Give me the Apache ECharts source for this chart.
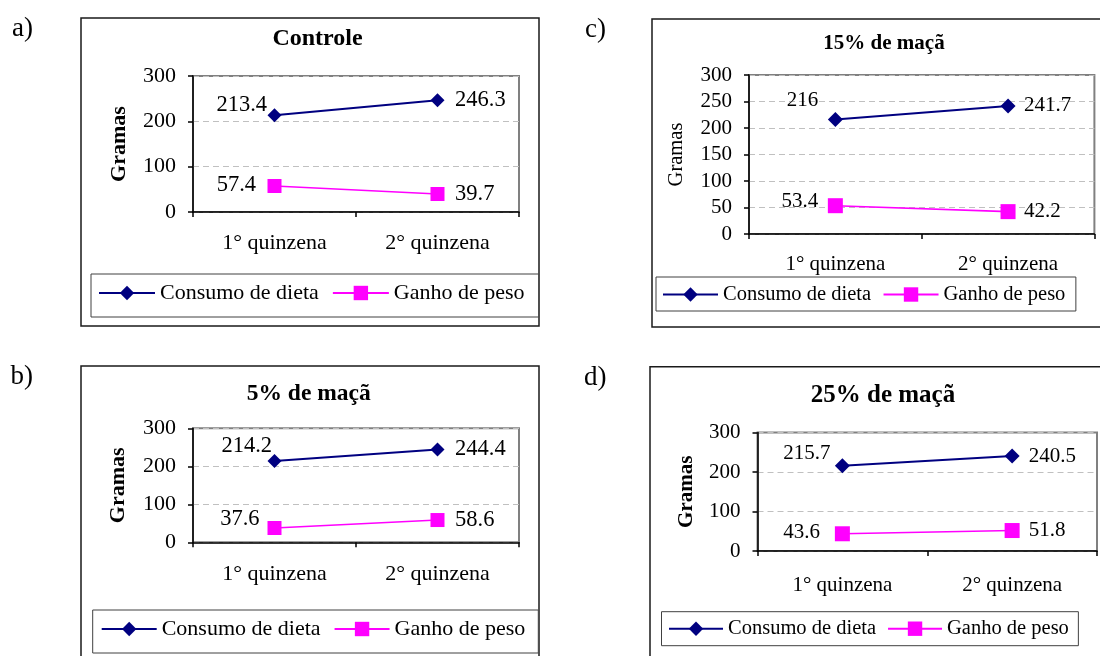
<!DOCTYPE html>
<html>
<head>
<meta charset="utf-8">
<script src="https://cdn.jsdelivr.net/npm/echarts@6/dist/echarts.min.js"></script>
<style>
  html, body { margin: 0; padding: 0; background: #fff; }
  #chart { width: 1100px; height: 656px; }
</style>
</head>
<body>
<div id="chart"></div>
<script>
// Categories and series names
const periods = ['1° quinzena', '2° quinzena'];
const seriesNames = ['Consumo de dieta', 'Ganho de peso'];
const panelTitles = ['Controle', '5% de maçã', '15% de maçã', '25% de maçã'];
const panelLetters = ['a)', 'b)', 'c)', 'd)'];

// Values in grams, one pair per fortnight
const consumoControle = [213.4, 246.3];
const ganhoControle = [57.4, 39.7];
const consumo5 = [214.2, 244.4];
const ganho5 = [37.6, 58.6];
const consumo15 = [216, 241.7];
const ganho15 = [53.4, 42.2];
const consumo25 = [215.7, 240.5];
const ganho25 = [43.6, 51.8];

// Y-axis tick labels
const ticksWide = [0, 100, 200, 300];
const ticksFine = [0, 50, 100, 150, 200, 250, 300];

const FONT = "'Liberation Serif', 'Times New Roman', Times, serif";
const NAVY = '#000080';
const MAGENTA = '#FF00FF';

// Per-panel layout: grid box, frame, text sizes, label placement
// labels: [series][point] = [side, gap from point centre, vertical shift]
const panels = [
  {
    values: [consumoControle, ganhoControle], ticks: ticksWide,
    grid: { left: 193, top: 76, width: 326, height: 136 },
    frame: { x: 81, y: 18, width: 458, height: 308 },
    letterPos: [12, 29], titlePos: [317.5, 39], titleSize: 24,
    fontSize: 22, labelSize: 22.5, nameBold: true, nameSize: 22, nameGap: 63, xMargin: 20,
    symbolSize: [14, 14],
    labels: [[['left', 7.5, -10], ['right', 17.5, 0]], [['left', 18.5, -1], ['right', 17.5, 0]]],
    legend: { left: 91, top: 274, padding: [8, 14, 13, 7], itemGap: 13, itemWidth: 56, fontSize: 22 }
  },
  {
    values: [consumo5, ganho5], ticks: ticksWide,
    grid: { left: 193, top: 428.3, width: 326, height: 114 },
    frame: { x: 81, y: 366, width: 458, height: 320 },
    letterPos: [10.5, 377], titlePos: [308.7, 393.5], titleSize: 23.5,
    fontSize: 22, labelSize: 22.5, nameBold: true, nameSize: 22, nameGap: 64, xMargin: 21,
    symbolSize: [14, 14],
    labels: [[['left', 2.5, -15], ['right', 17.5, 0]], [['left', 15, -9], ['right', 17.5, 0]]],
    legend: { left: 92.7, top: 610, padding: [8, 13, 13, 8], itemGap: 13, itemWidth: 55, fontSize: 22 }
  },
  {
    values: [consumo15, ganho15], ticks: ticksFine,
    grid: { left: 749, top: 75, width: 345.4, height: 159 },
    frame: { x: 652, y: 19, width: 480, height: 308 },
    letterPos: [585, 30], titlePos: [884, 44], titleSize: 21,
    fontSize: 21, labelSize: 21, nameBold: false, nameSize: 20.5, nameGap: 62, xMargin: 20,
    symbolSize: [15, 15],
    labels: [[['left', 17, -19.5], ['right', 16, 0]], [['left', 17, -4], ['right', 16, 0]]],
    legend: { left: 656, top: 277, padding: [7, 10.5, 6, 6], itemGap: 11.5, itemWidth: 55, fontSize: 20.5 }
  },
  {
    values: [consumo25, ganho25], ticks: ticksWide,
    grid: { left: 757.5, top: 432.5, width: 339.5, height: 118.5 },
    frame: { x: 650, y: 366.7, width: 480, height: 320 },
    letterPos: [584, 378], titlePos: [883, 396], titleSize: 25,
    fontSize: 21, labelSize: 21, nameBold: true, nameSize: 21, nameGap: 60.5, xMargin: 23.5,
    symbolSize: [15, 15],
    labels: [[['left', 11.8, -12.5], ['right', 16.7, 0]], [['left', 22.4, -1.5], ['right', 16.7, 0]]],
    legend: { left: 661.5, top: 611.7, padding: [6.5, 9.5, 6.5, 6.5], itemGap: 11, itemWidth: 54, fontSize: 20.5 }
  }
];

const grids = [], xAxes = [], yAxes = [], series = [], legends = [], graphics = [];

panels.forEach((p, k) => {
  grids.push(Object.assign({
    show: true, borderColor: '#808080', borderWidth: 2, backgroundColor: 'transparent',
    containLabel: false, outerBoundsMode: 'none'
  }, p.grid));

  xAxes.push({
    type: 'category', gridIndex: k, data: periods, boundaryGap: true,
    axisLine: { show: true, lineStyle: { color: '#000', width: 1.5 } },
    axisTick: { show: true, length: 5, inside: false, alignWithLabel: false, lineStyle: { color: '#000', width: 1.5 } },
    axisLabel: { show: true, margin: p.xMargin, color: '#000', fontFamily: FONT, fontSize: p.fontSize, interval: 0 },
    splitLine: { show: false }
  });

  const t = p.ticks;
  yAxes.push({
    type: 'value', gridIndex: k,
    min: t[0], max: t[t.length - 1], interval: t[1] - t[0],
    name: 'Gramas', nameLocation: 'middle', nameGap: p.nameGap, nameMoveOverlap: false,
    nameTextStyle: { color: '#000', fontFamily: FONT, fontSize: p.nameSize, fontWeight: p.nameBold ? 'bold' : 'normal' },
    axisLine: { show: true, lineStyle: { color: '#000', width: 1.5 } },
    axisTick: { show: true, length: 5, inside: false, lineStyle: { color: '#000', width: 1.5 } },
    axisLabel: { show: true, margin: 17, color: '#000', fontFamily: FONT, fontSize: p.fontSize, showMinLabel: true, showMaxLabel: true },
    splitLine: { show: true, lineStyle: { color: '#c0c0c0', width: 1, type: [6, 4] } }
  });

  p.values.forEach((vals, s) => {
    const size = p.symbolSize[s];
    series.push({
      type: 'line', name: seriesNames[s], xAxisIndex: k, yAxisIndex: k,
      symbol: s === 0 ? 'diamond' : 'rect', symbolSize: size,
      showAllSymbol: true,
      lineStyle: { color: s === 0 ? NAVY : MAGENTA, width: s === 0 ? 2 : 1.6 },
      itemStyle: { color: s === 0 ? NAVY : MAGENTA, borderWidth: 0 },
      emphasis: { disabled: true },
      label: { show: true, color: '#000', fontFamily: FONT, fontSize: p.labelSize, formatter: '{c}' },
      data: vals.map((v, i) => {
        const [side, gap, dy] = p.labels[s][i];
        return { value: v, label: { position: side, distance: gap - size / 2, offset: [0, dy] } };
      }),
      z: 3
    });
  });

  legends.push({
    show: true, orient: 'horizontal', data: seriesNames, selectedMode: false,
    left: p.legend.left, top: p.legend.top, padding: p.legend.padding,
    itemGap: p.legend.itemGap, itemWidth: p.legend.itemWidth, itemHeight: 18,
    borderColor: '#404040', borderWidth: 1, backgroundColor: '#fff',
    textStyle: { color: '#000', fontFamily: FONT, fontSize: p.legend.fontSize, lineHeight: Math.round(p.legend.fontSize) }
  });

  graphics.push({
    type: 'rect', silent: true, z: 0,
    shape: p.frame,
    style: { fill: 'none', stroke: '#1a1a1a', lineWidth: 1.5 }
  });
  graphics.push({
    type: 'text', silent: true,
    style: {
      text: panelLetters[k], x: p.letterPos[0], y: p.letterPos[1],
      fill: '#000', font: '27px ' + FONT,
      textAlign: 'left', align: 'left', textVerticalAlign: 'middle', verticalAlign: 'middle'
    }
  });
  graphics.push({
    type: 'text', silent: true,
    style: {
      text: panelTitles[k], x: p.titlePos[0], y: p.titlePos[1],
      fill: '#000', font: 'bold ' + p.titleSize + 'px ' + FONT,
      textAlign: 'center', align: 'center', textVerticalAlign: 'middle', verticalAlign: 'middle'
    }
  });
});

const chart = echarts.init(document.getElementById('chart'), null, { renderer: 'canvas', width: 1100, height: 656 });
chart.setOption({
  animation: false,
  backgroundColor: '#fff',
  textStyle: { fontFamily: FONT },
  grid: grids,
  xAxis: xAxes,
  yAxis: yAxes,
  legend: legends,
  tooltip: { show: false },
  graphic: { elements: graphics },
  series: series
});
</script>
</body>
</html>
